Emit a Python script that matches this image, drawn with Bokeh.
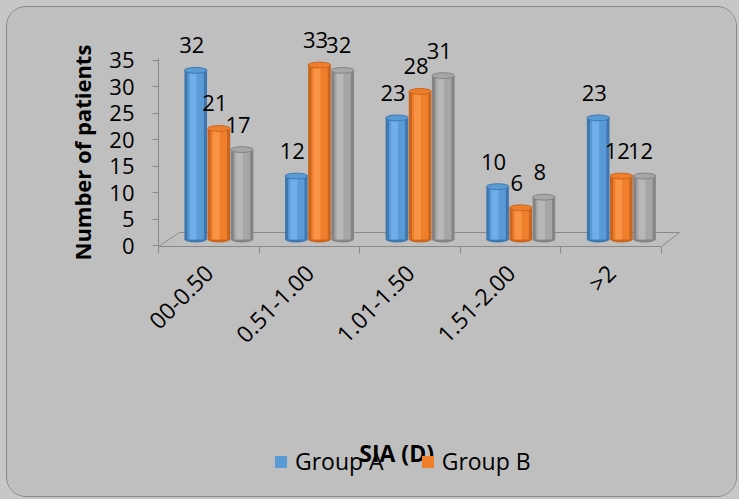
import math

from bokeh.core.properties import value
from bokeh.embed import file_html
from bokeh.layouts import column
from bokeh.models import (ColumnDataSource, FixedTicker, Label, Legend,
                          LegendItem, LinearAxis, Range1d, Title)
from bokeh.plotting import figure
from bokeh.resources import INLINE

# ---- data -------------------------------------------------------------
categories = ["00-0.50", "0.51-1.00", "1.01-1.50", "1.51-2.00", ">2"]
group_a = [32, 12, 23, 10, 23]
group_b = [21, 33, 28, 6, 12]
group_c = [17, 32, 31, 8, 12]
y_ticks = [0, 5, 10, 15, 20, 25, 30, 35]

series = [
    # name, values, edge, body, highlight, offset inside the category
    ("Group A", group_a, "#3f78b0", "#5b9bd5", "#74b3ee", 0.37),
    ("Group B", group_b, "#c9651f", "#f07f2c", "#fb9a4f", 0.60),
    ("Group C", group_c, "#848484", "#a6a6a6", "#bdbdbd", 0.83),
]
legend_series = ["Group A", "Group B"]

FONT = "Open Sans"
BG = "#bfbfbf"
EDGE = "#8a8a8a"
BAR_W = 0.225

# chart box: 731 x 491, split into the plot and a strip for legend / title
BOX_W, BOX_H = 731, 491
TOP_H = 410
STRIP_H = BOX_H - TOP_H
OX, OY = 7, 7                           # page offset of the box contents
FRAME_L, FRAME_R = 158, 691             # page columns of the plot frame

# pixel scale used for both value ranges (px per unit) and the two zeros
PX = 5.286
frame_top_px, frame_bot_px = 25, 246      # page rows of the frame
bar_zero_px, axis_zero_px = 239, 245      # floor level of bars / axis zero

y_main = Range1d((bar_zero_px - frame_bot_px) / PX, (bar_zero_px - frame_top_px) / PX)
y_axis_rng = Range1d((axis_zero_px - frame_bot_px) / PX, (axis_zero_px - frame_top_px) / PX)

p = figure(width=BOX_W, height=TOP_H, output_backend="svg", toolbar_location=None,
           x_range=Range1d(0, (FRAME_R - FRAME_L) / 101), y_range=y_main,
           x_axis_location=None, y_axis_location=None,
           min_border_left=FRAME_L - OX, min_border_right=BOX_W - (FRAME_R - OX),
           min_border_top=frame_top_px - OY,
           min_border_bottom=TOP_H - (frame_bot_px - OY))
p.extra_y_ranges = {"ax": y_axis_rng}
p.background_fill_color = BG
p.border_fill_color = BG
p.outline_line_color = None
p.grid.visible = False

# ---- value axis ------------------------------------------------------
yax = LinearAxis(y_range_name="ax", ticker=FixedTicker(ticks=y_ticks),
                 bounds=(y_axis_rng.start, 35.4))
yax.axis_line_color = EDGE
yax.major_tick_line_color = EDGE
yax.major_tick_out = 6
yax.major_tick_in = 0
yax.minor_tick_line_color = None
yax.major_label_standoff = 18
yax.major_label_text_font = FONT
yax.major_label_text_font_size = "22px"
yax.major_label_text_color = "black"
p.add_layout(yax, "left")

# value-axis title, starting just below the floor and running upwards
p.add_layout(Title(text="Number of patients", align="left", offset=-14, standoff=19,
                   text_font=FONT, text_font_size="22px", text_font_style="bold",
                   text_color="black"), "left")

# ---- category axis: boundary ticks along the front edge of the floor ----
n = len(categories)
edge_ax = LinearAxis(ticker=FixedTicker(ticks=list(range(n + 1))), bounds=(0, n))
edge_ax.axis_line_color = EDGE
edge_ax.major_tick_line_color = EDGE
edge_ax.major_tick_out = 7
edge_ax.major_tick_in = 0
edge_ax.minor_tick_line_color = None
edge_ax.major_label_overrides = {i: "" for i in range(n + 1)}
edge_ax.major_label_standoff = 0
edge_ax.major_label_text_font_size = "2px"
p.add_layout(edge_ax, "below")

# category names, rotated, centred on each slot
centers = [i + 0.5 for i in range(n)]
name_ax = LinearAxis(ticker=FixedTicker(ticks=centers))
name_ax.major_label_overrides = {c: lab for c, lab in zip(centers, categories)}
name_ax.major_label_orientation = math.pi / 4
name_ax.axis_line_color = None
name_ax.major_tick_line_color = None
name_ax.minor_tick_line_color = None
name_ax.major_label_standoff = 9
name_ax.major_label_text_font = FONT
name_ax.major_label_text_font_size = "23px"
name_ax.major_label_text_color = "black"
p.add_layout(name_ax, "below")

# ---- 3-D floor (back edge and side edges) ---------------------------
floor_front = y_main.start
floor_back = (bar_zero_px - 232) / PX
p.line([0, 0.208, n + 0.178, n], [floor_front, floor_back, floor_back, floor_front],
       line_color=EDGE, line_width=1)

# ---- cylinders ---------------------------------------------------------
for name, vals, edge, body, hi, off in series:
    xs = [i + off for i in range(n)]
    src = ColumnDataSource(dict(x=xs, top=vals, label=[str(v) for v in vals]))
    p.ellipse(x="x", y=0, width=BAR_W, height=1.1, source=src,
              fill_color=edge, line_color=None)
    p.vbar(x="x", top="top", bottom=0, width=BAR_W, source=src,
           fill_color=edge, line_color=None)
    p.vbar(x="x", top="top", bottom=0, width=BAR_W * 0.72, source=src,
           fill_color=body, line_color=None)
    src_hi = ColumnDataSource(dict(x=[x - 0.025 for x in xs], top=vals))
    p.vbar(x="x", top="top", bottom=0, width=BAR_W * 0.3, source=src_hi,
           fill_color=hi, line_color=None, fill_alpha=0.8)
    p.ellipse(x="x", y="top", width=BAR_W, height=1.1, source=src,
              fill_color=body, line_color=edge, line_width=1)
    p.text(x="x", y="top", text="label", source=src,
           x_offset=-4, y_offset=-25, text_align="center", text_baseline="middle",
           text_font=value(FONT), text_font_size="22px", text_color="black")

# ---- bottom strip: legend and category-axis title ----------------------
# the strip's frame is aligned with the plot frame above; its data units are
# page pixels (x to the right, y up from the bottom of the box)
strip_bottom_px = OY + BOX_H
strip = figure(width=BOX_W, height=STRIP_H, output_backend="svg", toolbar_location=None,
               x_range=Range1d(FRAME_L, FRAME_R), y_range=Range1d(0, STRIP_H),
               x_axis_location=None, y_axis_location=None,
               min_border=0)
strip.background_fill_color = BG
strip.border_fill_color = BG
strip.outline_line_color = None
strip.grid.visible = False

legend_items = []
for name, vals, edge, body, hi, off in series:
    if name in legend_series:
        # zero-height swatch renderer that only carries the legend colour
        swatch = strip.vbar(x=[FRAME_L], top=[0], bottom=[0], width=1,
                            fill_color=body, line_color=None)
        legend_items.append(LegendItem(label=name, renderers=[swatch]))

legend = Legend(items=legend_items, orientation="horizontal",
                location=(273 - FRAME_L, strip_bottom_px - 477), padding=0, margin=0,
                spacing=36, glyph_width=15, glyph_height=15, label_standoff=7,
                label_text_font=FONT, label_text_font_size="23px",
                label_text_color="black",
                background_fill_alpha=0, border_line_color=None)
strip.add_layout(legend, "center")

strip.add_layout(Label(x=397, y=strip_bottom_px - 452, text="SIA (D)",
                       text_align="center", text_baseline="middle",
                       text_font=FONT, text_font_size="23px", text_font_style="bold",
                       text_color="black"))

box = column(p, strip, width=BOX_W, height=BOX_H, spacing=0,
             styles={"border": f"1px solid {EDGE}", "border-radius": "20px",
                     "overflow": "hidden", "background-color": BG,
                     "margin": "6px 0 0 6px"})
page = column(box, width=739, height=499, styles={"background-color": "#c7c7c7"})

open("out.html", "w").write(file_html(page, INLINE))
